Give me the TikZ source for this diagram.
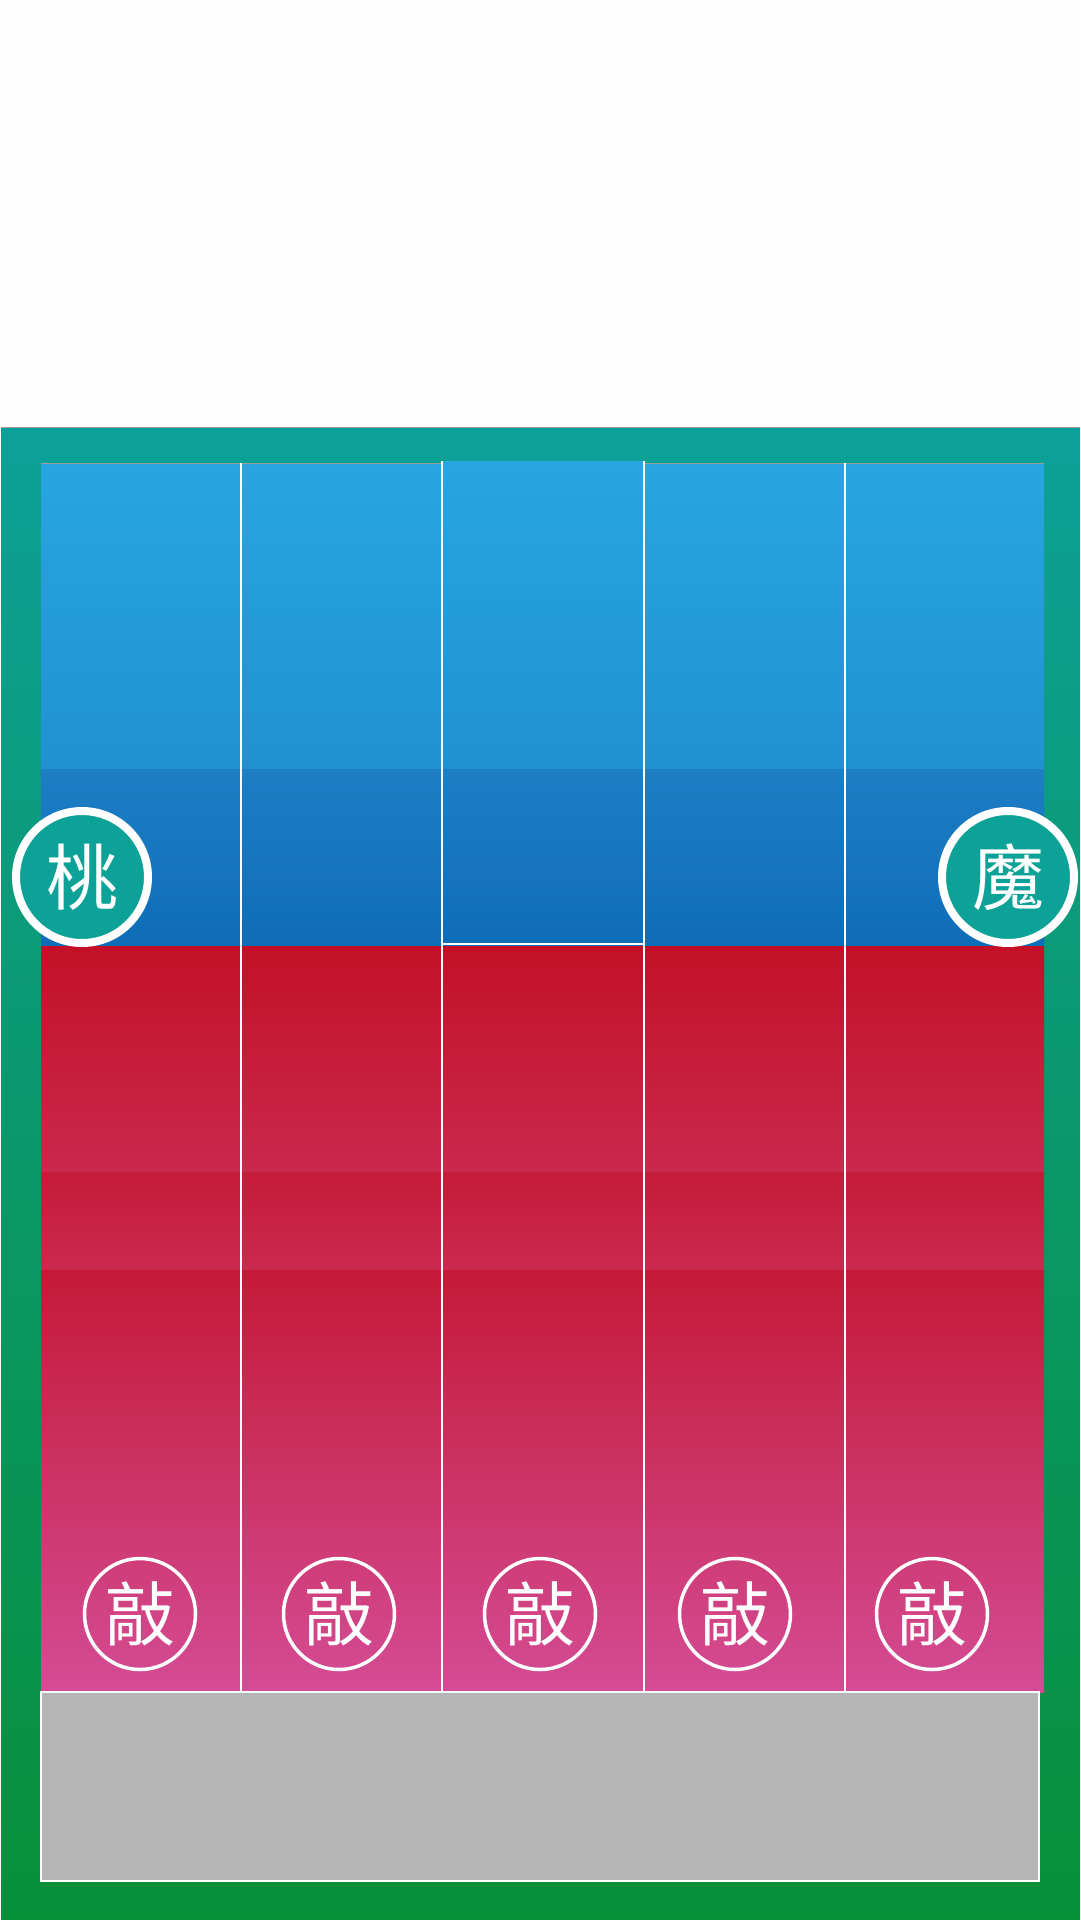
\documentclass[tikz,border=0pt]{standalone}
\usepackage{fontspec}
\newfontfamily\cjk{Noto Sans CJK SC}
\definecolor{pagebg}{HTML}{FDFDFD}
\definecolor{gtop}{HTML}{0CA198}
\definecolor{gmid}{HTML}{0E975F}
\definecolor{gbot}{HTML}{088F3A}
\definecolor{bA}{HTML}{27A6E0}
\definecolor{bB}{HTML}{2191D1}
\definecolor{bC}{HTML}{1D7EC4}
\definecolor{bD}{HTML}{0F6DB8}
\definecolor{rA}{HTML}{C31027}
\definecolor{rB}{HTML}{C9294D}
\definecolor{rC}{HTML}{C41B39}
\definecolor{rD}{HTML}{CA2A4E}
\definecolor{rE}{HTML}{C41A37}
\definecolor{rF}{HTML}{D44C95}
\definecolor{teal}{HTML}{0DA297}
\definecolor{greybox}{HTML}{B5B6B5}
\definecolor{edgegrey}{HTML}{9C9C9C}
\begin{document}
\begin{tikzpicture}[x=1pt,y=-1pt,
  bigdisc/.style={circle,draw=white,line width=8pt,fill=teal,minimum size=132pt,inner sep=0pt,text=white,font=\cjk\fontsize{72}{72}\selectfont},
  smalldisc/.style={circle,draw=white,line width=3.5pt,minimum size=111pt,inner sep=0pt,text=white,font=\cjk\fontsize{70}{70}\selectfont},
  divider/.style={white,line width=2pt}]
\useasboundingbox (0,0) rectangle (1080,1920);
\fill[pagebg] (0,0) rectangle (1080,1920);
% outer green frame
\shade[top color=gtop,middle color=gmid,bottom color=gbot] (1,427) rectangle (1080,1920);
\draw[edgegrey,line width=0.8pt] (1,427) -- (1080,427);
% blue band
\shade[top color=bA,bottom color=bB] (41,463) rectangle (1044,769);
\shade[top color=bC,bottom color=bD] (41,769) rectangle (1044,946);
\draw[edgegrey,line width=1pt] (41,463.5) -- (1044,463.5);
% middle column (raised)
\shade[top color=bA,bottom color=bB] (443,461) rectangle (643,769);
\shade[top color=bC,bottom color=bD] (443,769) rectangle (643,944);
% red band
\shade[top color=rA,bottom color=rB] (41,946) rectangle (1044,1172);
\shade[top color=rC,bottom color=rD] (41,1172) rectangle (1044,1270);
\shade[top color=rE,bottom color=rF] (41,1270) rectangle (1044,1692);
% grey box
\draw[white,line width=1.5pt,fill=greybox] (41,1692) rectangle (1039,1881);
% column dividers
\coordinate (d1t) at (241,463); \coordinate (d1b) at (241,1692);
\coordinate (d2t) at (442,461); \coordinate (d2b) at (442,1692);
\coordinate (d3t) at (644,461); \coordinate (d3b) at (644,1692);
\coordinate (d4t) at (845,463); \coordinate (d4b) at (845,1692);
\coordinate (mbl) at (442,944); \coordinate (mbr) at (644,944);
\draw[divider] (d1t) -- (d1b);
\draw[divider] (d2t) -- (d2b);
\draw[divider] (d3t) -- (d3b);
\draw[white,line width=1.2pt] (d4t) -- (d4b);
\draw[white,line width=2pt] (mbl) -- (mbr);
% side discs (clipped at blue/red boundary)
\begin{scope}
\clip (0,0) rectangle (1080,946);
\node[bigdisc] (peach) at (82,877) {桃};
\node[bigdisc] (demon) at (1008,877) {魔};
\end{scope}
% bottom discs
\node[smalldisc] (k1) at (140,1614) {敲};
\node[smalldisc] (k2) at (339,1614) {敲};
\node[smalldisc] (k3) at (540,1614) {敲};
\node[smalldisc] (k4) at (735,1614) {敲};
\node[smalldisc] (k5) at (932,1614) {敲};
\end{tikzpicture}
\end{document}
